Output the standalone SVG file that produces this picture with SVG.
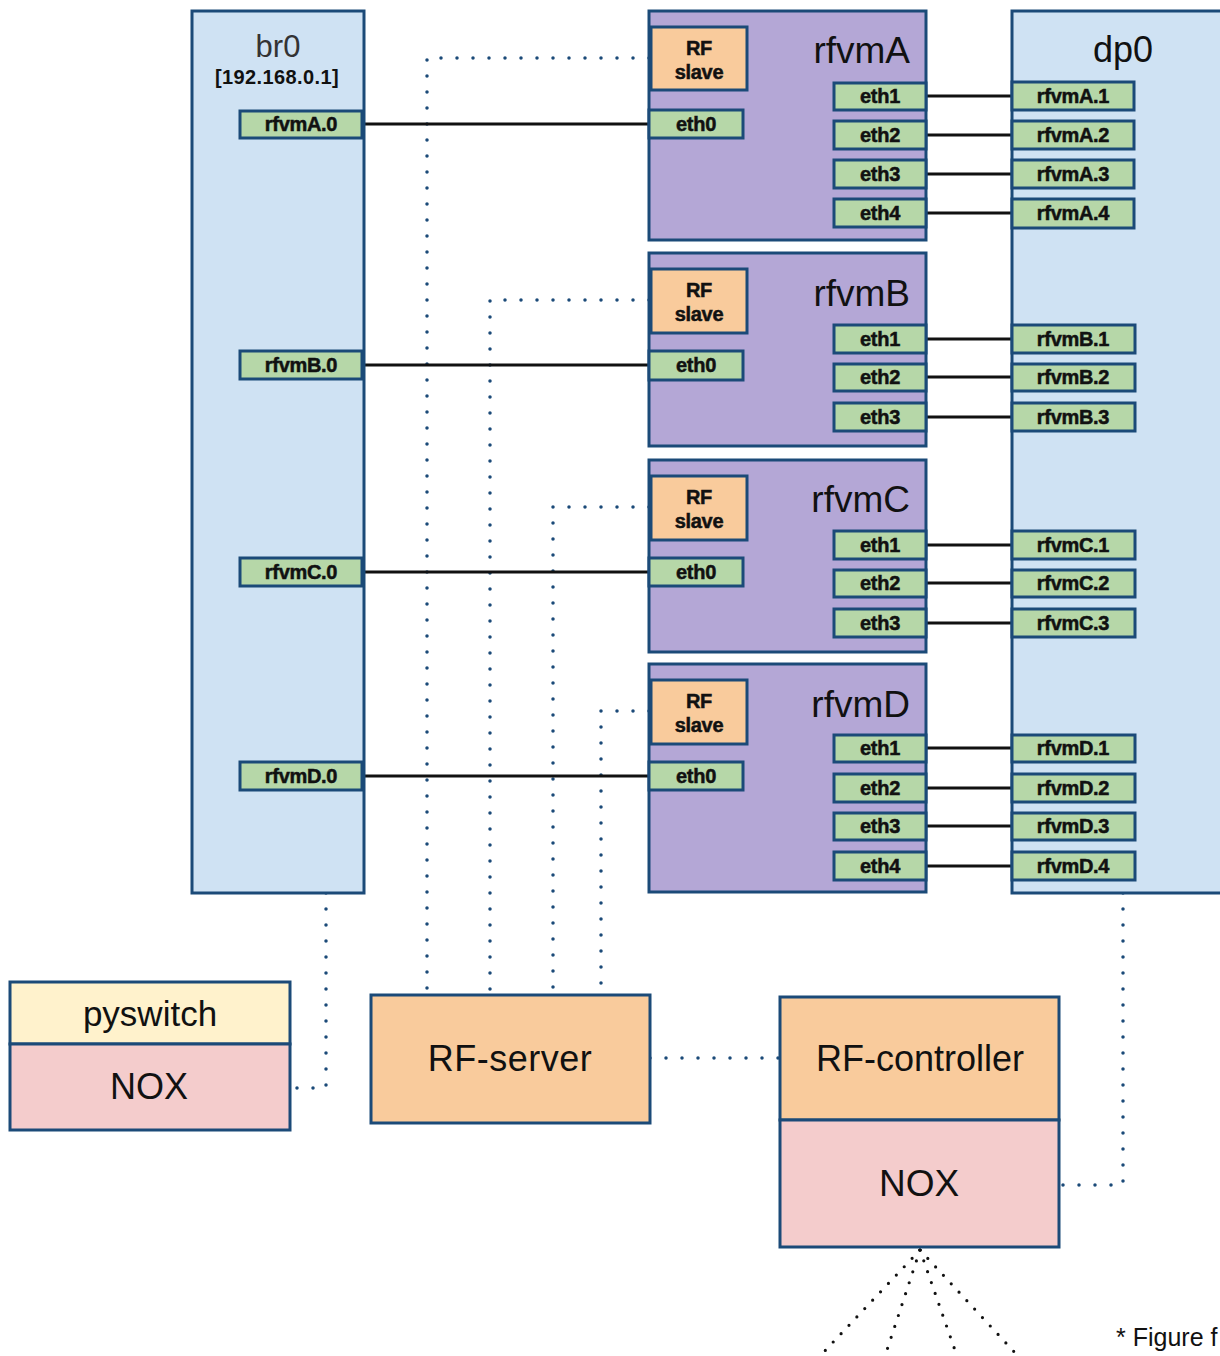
<svg xmlns="http://www.w3.org/2000/svg" width="1220" height="1356" viewBox="0 0 1220 1356">
<style>
.box{stroke:#1b4a78;stroke-width:3}
.host{fill:#cfe2f3}
.vm{fill:#b4a7d6}
.port{fill:#b6d7a8}
.orange{fill:#f9cb9c}
.pink{fill:#f4cccc}
.yellow{fill:#fff2cc}
.pt{font-family:"Liberation Sans",Arial,sans-serif;font-weight:bold;font-size:20px;fill:#111;stroke:#111;stroke-width:0.5;text-anchor:middle;letter-spacing:-0.3px}
.big{font-family:"Liberation Sans",Arial,sans-serif;font-size:36px;fill:#111;text-anchor:middle}
.title{font-family:"Liberation Sans",Arial,sans-serif;font-size:37px;fill:#111;text-anchor:end}
.link{stroke:#111;stroke-width:3;fill:none}
.dot{stroke:#1b4a78;stroke-width:3.5;stroke-linecap:round;stroke-dasharray:0 16;fill:none}
.fan{stroke:#111;stroke-width:3.2;stroke-linecap:round;stroke-dasharray:0 11.5;fill:none}
</style>

<g id="connectors">
<path class="dot" d="M649 58 H427 V995"/>
<path class="dot" d="M649 300 H490 V995"/>
<path class="dot" d="M649 507 H553 V995"/>
<path class="dot" d="M649 711 H601 V995"/>
<path class="dot" d="M326 893 V1088 H290"/>
<path class="dot" d="M650 1058 H780"/>
<path class="dot" d="M1123 893 V1185 H1060"/>
<path class="fan" d="M920 1250 L820 1356"/>
<path class="fan" d="M920 1250 L885 1356"/>
<path class="fan" d="M920 1250 L957 1356"/>
<path class="fan" d="M920 1250 L1018 1356"/>
<path class="link" d="M362 124 H649"/>
<path class="link" d="M362 365 H649"/>
<path class="link" d="M362 572 H649"/>
<path class="link" d="M362 776 H649"/>
<path class="link" d="M926 96 H1012 M926 135 H1012 M926 174 H1012 M926 213 H1012"/>
<path class="link" d="M926 339 H1012 M926 377 H1012 M926 417 H1012"/>
<path class="link" d="M926 545 H1012 M926 583 H1012 M926 623 H1012"/>
<path class="link" d="M926 748 H1012 M926 788 H1012 M926 826 H1012 M926 866 H1012"/>
</g>

<g id="br0">
<rect class="box host" x="192" y="11" width="172" height="882"/>
<text x="278" y="57" style="font-family:'Liberation Sans',Arial,sans-serif;font-size:31px;fill:#333;text-anchor:middle">br0</text>
<text x="277" y="84" style="font-family:'Liberation Sans',Arial,sans-serif;font-size:20px;font-weight:bold;fill:#111;text-anchor:middle;letter-spacing:0.4px">[192.168.0.1]</text>
<g id="br0-rfvmA0"><rect class="box port" x="240" y="111" width="122" height="27"/><text class="pt" x="301" y="131">rfvmA.0</text></g>
<g id="br0-rfvmB0"><rect class="box port" x="240" y="351" width="122" height="28"/><text class="pt" x="301" y="372">rfvmB.0</text></g>
<g id="br0-rfvmC0"><rect class="box port" x="240" y="558" width="122" height="28"/><text class="pt" x="301" y="579">rfvmC.0</text></g>
<g id="br0-rfvmD0"><rect class="box port" x="240" y="762" width="122" height="28"/><text class="pt" x="301" y="783">rfvmD.0</text></g>
</g>

<g id="rfvmA">
<rect class="box vm" x="649" y="11" width="277" height="229"/>
<text class="title" x="910" y="63">rfvmA</text>
<rect class="box orange" x="651" y="27" width="96" height="63"/>
<text class="pt" x="699" y="55">RF</text><text class="pt" x="699" y="79">slave</text>
<rect class="box port" x="649" y="110" width="94" height="28"/><text class="pt" x="696" y="131">eth0</text>
<rect class="box port" x="834" y="83" width="92" height="27"/><text class="pt" x="880" y="103">eth1</text>
<rect class="box port" x="834" y="121" width="92" height="28"/><text class="pt" x="880" y="142">eth2</text>
<rect class="box port" x="834" y="160" width="92" height="28"/><text class="pt" x="880" y="181">eth3</text>
<rect class="box port" x="834" y="199" width="92" height="28"/><text class="pt" x="880" y="220">eth4</text>
</g>

<g id="rfvmB">
<rect class="box vm" x="649" y="253" width="277" height="193"/>
<text class="title" x="910" y="306">rfvmB</text>
<rect class="box orange" x="651" y="269" width="96" height="64"/>
<text class="pt" x="699" y="297">RF</text><text class="pt" x="699" y="321">slave</text>
<rect class="box port" x="649" y="351" width="94" height="29"/><text class="pt" x="696" y="372">eth0</text>
<rect class="box port" x="834" y="325" width="92" height="28"/><text class="pt" x="880" y="346">eth1</text>
<rect class="box port" x="834" y="364" width="92" height="27"/><text class="pt" x="880" y="384">eth2</text>
<rect class="box port" x="834" y="403" width="92" height="28"/><text class="pt" x="880" y="424">eth3</text>
</g>

<g id="rfvmC">
<rect class="box vm" x="649" y="460" width="277" height="192"/>
<text class="title" x="910" y="512">rfvmC</text>
<rect class="box orange" x="651" y="476" width="96" height="64"/>
<text class="pt" x="699" y="504">RF</text><text class="pt" x="699" y="528">slave</text>
<rect class="box port" x="649" y="558" width="94" height="28"/><text class="pt" x="696" y="579">eth0</text>
<rect class="box port" x="834" y="531" width="92" height="28"/><text class="pt" x="880" y="552">eth1</text>
<rect class="box port" x="834" y="570" width="92" height="27"/><text class="pt" x="880" y="590">eth2</text>
<rect class="box port" x="834" y="609" width="92" height="28"/><text class="pt" x="880" y="630">eth3</text>
</g>

<g id="rfvmD">
<rect class="box vm" x="649" y="664" width="277" height="228"/>
<text class="title" x="910" y="717">rfvmD</text>
<rect class="box orange" x="651" y="680" width="96" height="64"/>
<text class="pt" x="699" y="708">RF</text><text class="pt" x="699" y="732">slave</text>
<rect class="box port" x="649" y="762" width="94" height="28"/><text class="pt" x="696" y="783">eth0</text>
<rect class="box port" x="834" y="735" width="92" height="27"/><text class="pt" x="880" y="755">eth1</text>
<rect class="box port" x="834" y="774" width="92" height="28"/><text class="pt" x="880" y="795">eth2</text>
<rect class="box port" x="834" y="813" width="92" height="27"/><text class="pt" x="880" y="833">eth3</text>
<rect class="box port" x="834" y="852" width="92" height="28"/><text class="pt" x="880" y="873">eth4</text>
</g>

<g id="dp0">
<rect class="box host" x="1012" y="11" width="222" height="882"/>
<text x="1123" y="62" style="font-family:'Liberation Sans',Arial,sans-serif;font-size:36px;fill:#111;text-anchor:middle">dp0</text>
<rect class="box port" x="1012" y="82" width="122" height="28"/><text class="pt" x="1073" y="103">rfvmA.1</text>
<rect class="box port" x="1012" y="121" width="122" height="28"/><text class="pt" x="1073" y="142">rfvmA.2</text>
<rect class="box port" x="1012" y="160" width="122" height="28"/><text class="pt" x="1073" y="181">rfvmA.3</text>
<rect class="box port" x="1012" y="199" width="122" height="29"/><text class="pt" x="1073" y="220">rfvmA.4</text>
<rect class="box port" x="1012" y="325" width="123" height="28"/><text class="pt" x="1073" y="346">rfvmB.1</text>
<rect class="box port" x="1012" y="364" width="123" height="27"/><text class="pt" x="1073" y="384">rfvmB.2</text>
<rect class="box port" x="1012" y="403" width="123" height="28"/><text class="pt" x="1073" y="424">rfvmB.3</text>
<rect class="box port" x="1012" y="531" width="123" height="28"/><text class="pt" x="1073" y="552">rfvmC.1</text>
<rect class="box port" x="1012" y="570" width="123" height="27"/><text class="pt" x="1073" y="590">rfvmC.2</text>
<rect class="box port" x="1012" y="609" width="123" height="28"/><text class="pt" x="1073" y="630">rfvmC.3</text>
<rect class="box port" x="1012" y="735" width="123" height="27"/><text class="pt" x="1073" y="755">rfvmD.1</text>
<rect class="box port" x="1012" y="774" width="123" height="28"/><text class="pt" x="1073" y="795">rfvmD.2</text>
<rect class="box port" x="1012" y="813" width="123" height="27"/><text class="pt" x="1073" y="833">rfvmD.3</text>
<rect class="box port" x="1012" y="852" width="123" height="28"/><text class="pt" x="1073" y="873">rfvmD.4</text>
</g>

<g id="pyswitch">
<rect class="box yellow" x="10" y="982" width="280" height="62"/>
<rect class="box pink" x="10" y="1044" width="280" height="86"/>
<text class="big" x="150" y="1026" style="font-size:35px">pyswitch</text>
<text class="big" x="149" y="1099">NOX</text>
</g>

<g id="rf-server">
<rect class="box orange" x="371" y="995" width="279" height="128"/>
<text class="big" x="510" y="1071" style="letter-spacing:0.5px">RF-server</text>
</g>

<g id="rf-controller">
<rect class="box orange" x="780" y="997" width="279" height="123"/>
<rect class="box pink" x="780" y="1120" width="279" height="127"/>
<text class="big" x="920" y="1071">RF-controller</text>
<text class="big" x="919" y="1196" style="font-size:37px">NOX</text>
</g>

<text x="1116" y="1346" style="font-family:'Liberation Sans',Arial,sans-serif;font-size:25px;fill:#111">* Figure f</text>
</svg>
